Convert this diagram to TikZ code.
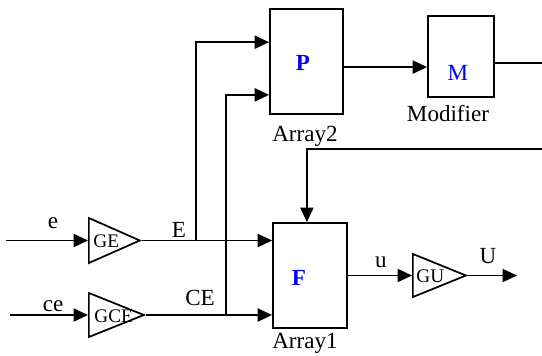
\documentclass[tikz,border=0pt,12pt]{standalone}
\usepackage{fontspec}
\setmainfont{Liberation Serif}
\usetikzlibrary{arrows.meta,positioning,shapes.geometric}

\begin{document}
\begin{tikzpicture}[
    x=0.52pt, y=-0.52pt,
    blk/.style={draw, line width=0.9pt, inner sep=0pt},
    gain/.style={draw, line width=0.9pt, isosceles triangle,
                 isosceles triangle stretches, inner sep=0pt, anchor=west},
    gtxt/.style={font=\footnotesize, inner sep=0pt, anchor=west},
    tag/.style={text=blue, font=\bfseries},
    lab/.style={inner sep=1pt},
    arr/.style={-{Triangle[length=7.5pt,width=6.8pt]}, line width=0.9pt},
    wire/.style={line width=0.9pt}
  ]
  \useasboundingbox (0,0) rectangle (542,356);

  % array blocks
  \node[blk, minimum width=38pt, minimum height=54.6pt] (p) at (306.5,61.5) {};
  \node[blk, minimum width=38.5pt, minimum height=54.6pt] (f) at (310,275.5) {};
  \node[blk, minimum width=34.3pt, minimum height=42.1pt] (m) at (461,56.5) {};
  \node[tag] (ptxt) at (303,63) {P};
  \node[tag] (ftxt) at (299,278) {F};
  \node[text=blue] (mtxt) at (458,73) {M};
  \node[lab] (arr2) at (305,136) {Array2};
  \node[lab] (arr1) at (305,343) {Array1};
  \node[lab] (mod) at (448,113) {Modifier};

  % gains
  \node[gain, minimum height=26.5pt, minimum width=23.4pt] (ge) at (88,240.5) {};
  \node[gain, minimum height=28.6pt, minimum width=22.9pt] (gce) at (88,315) {};
  \node[gain, minimum height=27.6pt, minimum width=22.4pt] (gu) at (412,275.5) {};
  \node[gtxt] (getxt) at (93,241) {GE};
  \node[gtxt] (gcetxt) at (94,316) {GCE};
  \node[gtxt] (gutxt) at (416,276) {GU};

  % signal names
  \node[lab] (le) at (53,223) {e};
  \node[lab] (lE) at (179,230) {E};
  \node[lab] (lce) at (53,306) {ce};
  \node[lab] (lCE) at (200,298) {CE};
  \node[lab] (lu) at (381,262) {u};
  \node[lab] (lU) at (488,256) {U};

  % free ends and branch points
  \coordinate (ein) at (6,240.5);
  \coordinate (cein) at (10,315);
  \coordinate (ej) at (196,240.5);
  \coordinate (cej) at (226,315);
  \coordinate (fb) at (542,149);
  \coordinate (mend) at (542,63);
  \coordinate (uend) at (517,275.5);
  \coordinate (pout) at ([yshift=-2.9pt]p.east);
  \coordinate (mout) at ([yshift=-3.4pt]m.east);

  \draw[arr] (ein) -- (ge.west);
  \draw[arr] (cein) -- (gce.west);
  \draw[arr] (ge.east) -- (ge.east -| f.west);
  \draw[arr] (gce.east) -- (gce.east -| f.west);
  \draw[arr] (ej) |- ([yshift=-17.7pt]p.north west);
  \draw[arr] (cej) |- ([yshift=10.4pt]p.south west);
  \draw[arr] (pout) -- (pout -| m.west);
  \draw[wire] (mout) -- (mend);
  \draw[arr] (fb) -| ([xshift=-1.6pt]f.north);
  \draw[arr] (f.east) -- (gu.west);
  \draw[arr] (gu.east) -- (uend);
\end{tikzpicture}
\end{document}
